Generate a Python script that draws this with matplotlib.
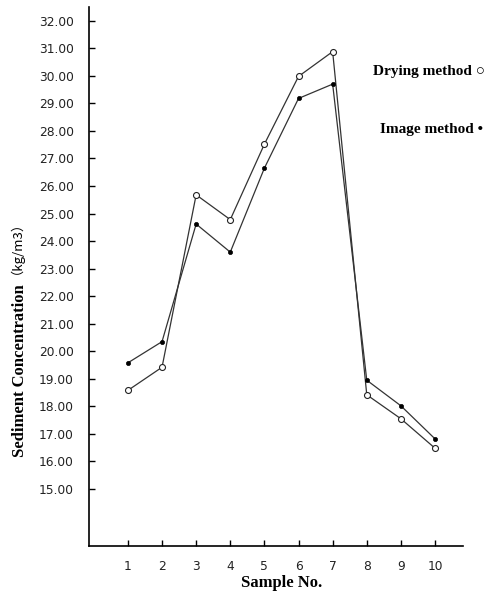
import matplotlib
matplotlib.use("Agg")
import matplotlib.pyplot as plt

samples = [1, 2, 3, 4, 5, 6, 7, 8, 9, 10]
drying = [18.58, 19.42, 25.68, 24.78, 27.52, 29.98, 30.88, 18.42, 17.55, 16.48]
image = [19.58, 20.35, 24.62, 23.60, 26.65, 29.18, 29.70, 18.95, 18.02, 16.82]
yticks = [15, 16, 17, 18, 19, 20, 21, 22, 23, 24, 25, 26, 27, 28, 29, 30, 31, 32]

fig = plt.figure(figsize=(4.91, 5.92), dpi=100)
ax = fig.add_axes([89/491, 46/592, (463-89)/491, (546-7)/592])

ax.plot(samples, drying, color='#333333', lw=0.9, marker='o', ms=4.3,
        mfc='white', mec='#222222', mew=0.8)
ax.plot(samples, image, color='#333333', lw=0.9, marker='o', ms=3.0,
        mfc='black', mec='black', mew=0.5)

ax.set_xlim(-0.14, 10.82)
ax.set_ylim(12.93, 32.5)
ax.set_xticks(samples)
ax.set_xticklabels([str(s) for s in samples])
ax.set_yticks(yticks)
ax.set_yticklabels([f"{v:.2f}" for v in yticks])
for s in ['top', 'right']:
    ax.spines[s].set_visible(False)
for s in ['left', 'bottom']:
    ax.spines[s].set_linewidth(1.2)
ax.tick_params(axis='both', direction='in', length=4, width=1, labelsize=8.8, colors='black')
ax.tick_params(axis='y', pad=11)
ax.tick_params(axis='x', pad=10)
for lab in ax.get_xticklabels() + ax.get_yticklabels():
    lab.set_color('#222222')

fig.text(282/491, 1-583/592, "Sample No.", ha='center', va='center',
         family='Liberation Serif', fontweight='bold', fontsize=12)
fig.text(20/491, 1-457/592, "Sediment Concentration", ha='center', va='bottom',
         rotation=90, family='Liberation Serif', fontweight='bold', fontsize=12)
fig.text(10/491, 1-274/592, "（kg/m3）", ha='center', va='bottom',
         rotation=90, family=['Noto Sans CJK SC', 'DejaVu Sans'], fontsize=9.5)

fig.text(429/491, 1-71/592, "Drying method ○", ha='center', va='center',
         family=['Liberation Serif', 'DejaVu Sans'], fontweight='bold', fontsize=11)
fig.text(431/491, 1-130/592, "Image method •", ha='center', va='center',
         family=['Liberation Serif', 'DejaVu Sans'], fontweight='bold', fontsize=11)

fig.savefig("out.png", dpi=100)
